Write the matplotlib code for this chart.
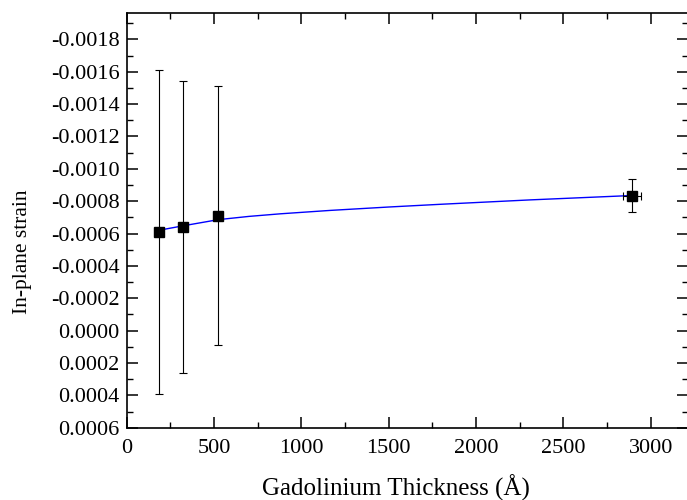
import matplotlib
matplotlib.use("Agg")
import matplotlib.pyplot as plt
from matplotlib.ticker import MultipleLocator, FormatStrFormatter

# measured points (thickness in Angstrom, in-plane strain)
thick = [183, 324, 525, 2892]
strain = [-0.00061, -0.00064, -0.00071, -0.000835]
strain_err = [0.001, 0.0009, 0.0008, 0.0001]
thick_err = [0, 0, 0, 50]

# fitted curve
fit_x = [183, 324, 525, 700, 880, 1165, 1500, 1800, 2310, 2890]
fit_y = [-0.00062, -0.000648, -0.000686, -0.000706, -0.000722, -0.000743,
         -0.000764, -0.000781, -0.000808, -0.000835]

plt.rcParams['font.family'] = ['Liberation Serif', 'DejaVu Serif']

fig = plt.figure(figsize=(6.87, 5), dpi=100)
ax = fig.add_axes([0.1844, 0.1446, 0.8156 + 0.002, 0.8284])

ax.plot(fit_x, fit_y, color='#0000ff', lw=1.0, zorder=2)
ax.errorbar(thick, strain, yerr=strain_err, xerr=thick_err, fmt='s', color='black',
            ms=6.8, elinewidth=0.8, capsize=3, capthick=0.8, zorder=3)

ax.set_xlim(0, 3215)
ax.set_ylim(0.0006, -0.00196)

ax.xaxis.set_major_locator(MultipleLocator(500))
ax.xaxis.set_minor_locator(MultipleLocator(250))
ax.yaxis.set_major_locator(MultipleLocator(0.0002))
ax.yaxis.set_minor_locator(MultipleLocator(0.0001))
ax.yaxis.set_major_formatter(FormatStrFormatter('%.4f'))

ax.tick_params(which='both', direction='in', top=True, right=True, labelsize=16)
ax.tick_params(which='major', length=8, width=1.1)
ax.tick_params(which='minor', length=4.5, width=1.0)
ax.tick_params(axis='x', pad=8)
ax.tick_params(axis='y', pad=5)
for s in ax.spines.values():
    s.set_linewidth(1.2)

ax.set_xlabel('Gadolinium Thickness (Å)', fontsize=18)
ax.set_ylabel('In-plane strain', fontsize=15.5)
ax.xaxis.set_label_coords(0.479, -0.114)
ax.yaxis.set_label_coords(-0.168, 0.424)

fig.savefig('out.png', dpi=100)
